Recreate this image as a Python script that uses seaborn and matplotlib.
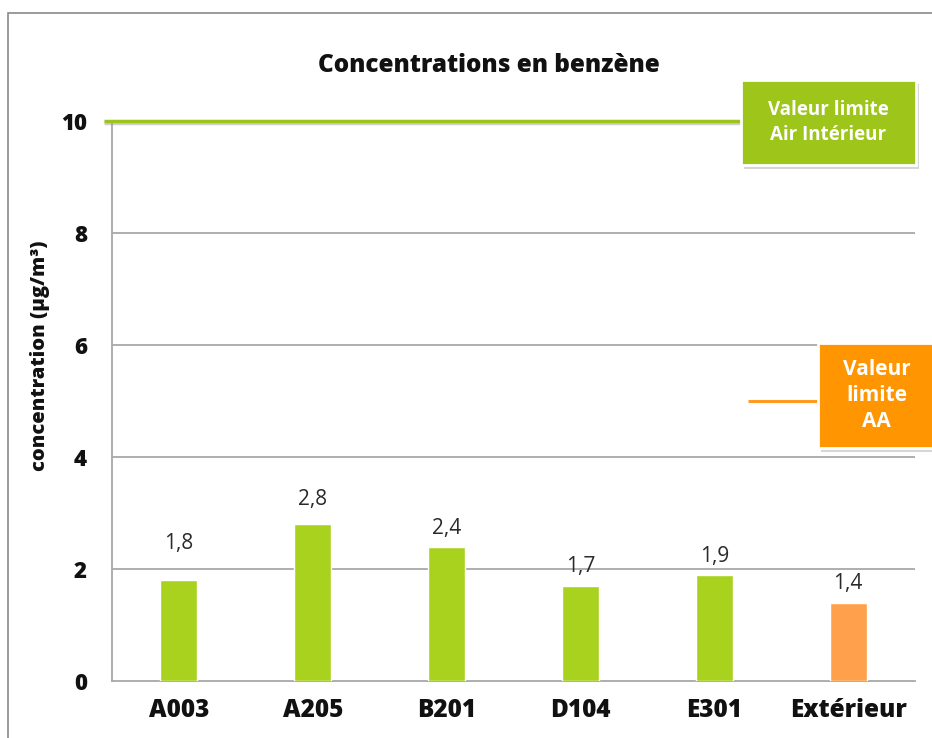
import matplotlib
matplotlib.use("Agg")
import matplotlib.pyplot as plt
import seaborn as sns
import numpy as np
import pandas as pd
from matplotlib.patches import Rectangle

categories = ["A003", "A205", "B201", "D104", "E301", "Extérieur"]
values = [1.8, 2.8, 2.4, 1.7, 1.9, 1.4]
value_labels = ["1,8", "2,8", "2,4", "1,7", "1,9", "1,4"]
label_y = [2.46, 3.25, 2.73, 2.04, 2.23, 1.75]
bar_colors = ["#A9D21E", "#A9D21E", "#A9D21E", "#A9D21E", "#A9D21E", "#FFA14C"]
limit_indoor = 10
limit_aa = 5
yticks = [0, 2, 4, 6, 8, 10]

sns.set_theme(style="white")
FAM = ['Open Sans', 'DejaVu Sans']
plt.rcParams['font.family'] = FAM

fig = plt.figure(figsize=(9.32, 7.38), dpi=100)
W, H = 932, 738
ax = fig.add_axes([112 / W, 1 - 681 / H, (915 - 112) / W, 560 / H])

df = pd.DataFrame({"cat": categories, "val": values})
sns.barplot(data=df, x="cat", y="val", hue="cat", palette=bar_colors,
            legend=False, width=0.277, ax=ax, saturation=1, zorder=3)

ax.set_ylim(0, 10)
ax.set_xlim(-0.5, 5.5)
ax.set_yticks(yticks)
ax.set_yticklabels([str(t) for t in yticks], fontsize=16, fontweight='heavy')
ax.set_xticks(np.arange(-0.5, 6, 1))
ax.set_xticklabels([])
ax.set_xticks(range(len(categories)), minor=True)
ax.set_xticklabels(categories, minor=True, fontsize=17.5, fontweight='heavy')
ax.tick_params(axis='x', which='minor', length=0, pad=12)
ax.tick_params(axis='x', which='major', length=8, width=1, color='#A0A0A0', direction='out')
ax.tick_params(axis='y', length=8, width=1, color='#A0A0A0', direction='out', pad=10)
ax.set_xlabel("")
ax.set_ylabel("")
for t in ax.get_yticklabels() + ax.get_xticklabels(minor=True):
    t.set_color('#111111')

for y in [2, 4, 6, 8]:
    ax.axhline(y, color='#A8A8A8', lw=1.3, zorder=1)
for s in ['top', 'right']:
    ax.spines[s].set_visible(False)
for s in ['left', 'bottom']:
    ax.spines[s].set_color('#A8A8A8')
    ax.spines[s].set_linewidth(1.3)

for i, (lab, ly) in enumerate(zip(value_labels, label_y)):
    ax.text(i, ly, lab, ha='center', va='center', fontsize=15, color='#2A2A2A',
            family=FAM, fontweight='normal')

# limit lines
ax.plot([-0.56, 4.2], [limit_indoor - 0.035, limit_indoor - 0.035], color='#A0A0A0', lw=2.5,
        alpha=0.5, clip_on=False, zorder=4, solid_capstyle='butt')
ax.plot([-0.56, 4.2], [limit_indoor, limit_indoor], color='#9CC41C', lw=2.5,
        clip_on=False, zorder=5, solid_capstyle='butt')
ax.plot([4.25, 4.8], [limit_aa, limit_aa], color='#FF9A20', lw=2.2,
        clip_on=False, zorder=5, solid_capstyle='butt')

# boxes (figure pixel coordinates)
def box(x0, y0, x1, y1, color, text, fs):
    fig.patches.append(Rectangle(((x0 + 3) / W, 1 - (y1 + 4) / H), (x1 - x0) / W, (y1 - y0) / H,
                                 transform=fig.transFigure, facecolor='#BBBBBB', edgecolor='none',
                                 alpha=0.6, zorder=5))
    fig.patches.append(Rectangle((x0 / W, 1 - y1 / H), (x1 - x0) / W, (y1 - y0) / H,
                                 transform=fig.transFigure, facecolor=color, edgecolor='white',
                                 lw=2, zorder=6))
    fig.text((x0 + x1) / 2 / W, 1 - (y0 + y1) / 2 / H, text, ha='center', va='center',
             color='white', fontsize=fs, fontweight='bold', linespacing=1.3,
             family=FAM, zorder=7)

box(741, 80, 916, 165, '#9DC51A', "Valeur limite\nAir Intérieur", 13.5)
box(818, 343, 935, 448, '#FF9500', "Valeur\nlimite\nAA", 15)

# outer frame
fig.patches.append(Rectangle((8 / W, -0.1), 1.2, 1 - 13 / H + 0.1, transform=fig.transFigure,
                             facecolor='none', edgecolor='#8A8A8A', lw=1.2, zorder=0))

fig.text(489 / W, 1 - 65 / H, "Concentrations en benzène", ha='center', va='center',
         fontsize=17.5, fontweight='heavy', color='#111111', family=FAM)
fig.text(40 / W, 1 - 356 / H, "concentration (µg/m³)", ha='center', va='center', rotation=90,
         fontsize=14.5, fontweight='heavy', color='#111111', family=FAM)

fig.savefig("out.png", dpi=100)
